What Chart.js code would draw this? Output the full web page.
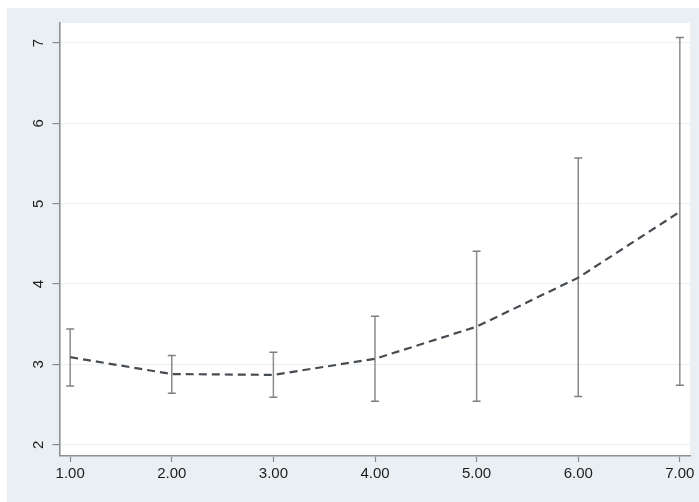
<!DOCTYPE html>
<html>
<head>
<meta charset="utf-8">
<script src="https://cdn.jsdelivr.net/npm/chart.js@4/dist/chart.umd.min.js"></script>
<style>
  html, body { margin: 0; padding: 0; background: #ffffff; }
  #c { display: block; }
</style>
</head>
<body>
<canvas id="c" width="699" height="502"></canvas>
<script>
// Group levels on the x axis
const xLevels = [1, 2, 3, 4, 5, 6, 7];
// Predicted mean at each level
const meanValues = [3.09, 2.88, 2.87, 3.07, 3.47, 4.08, 4.90];
// Confidence interval bounds
const lowerValues = [2.73, 2.64, 2.59, 2.54, 2.54, 2.60, 2.74];
const upperValues = [3.44, 3.11, 3.15, 3.60, 4.41, 5.57, 7.07];
// Axis tick labels
const xTickValues = [1, 2, 3, 4, 5, 6, 7];
const xTickLabels = ['1.00', '2.00', '3.00', '4.00', '5.00', '6.00', '7.00'];
const yTickValues = [2, 3, 4, 5, 6, 7];

// Mean curve as x/y pairs
const meanPoints = xLevels.map((x, i) => ({ x: x, y: meanValues[i] }));

// Interval whiskers: low/high pair per level, separated by a gap
const intervalPoints = [];
xLevels.forEach((x, i) => {
  intervalPoints.push({ x: x, y: lowerValues[i] });
  intervalPoints.push({ x: x, y: upperValues[i] });
  intervalPoints.push({ x: x, y: null });
});

// Graph region (light panel) and white plot region
const panelPlugin = {
  id: 'panel',
  beforeDraw(chart) {
    const ctx = chart.ctx;
    const a = chart.chartArea;
    ctx.save();
    ctx.fillStyle = '#ffffff';
    ctx.fillRect(0, 0, chart.width, chart.height);
    ctx.fillStyle = '#e9eff3';
    ctx.fillRect(7, 8, chart.width - 7, chart.height - 8);
    ctx.fillStyle = '#ffffff';
    ctx.fillRect(a.left, a.top, a.right - a.left, a.bottom - a.top);
    ctx.restore();
  }
};

const labelFont = { family: '"Liberation Sans", Arial, sans-serif', size: 15 };

new Chart(document.getElementById('c'), {
  type: 'scatter',
  data: {
    datasets: [
      {
        label: 'mean',
        data: meanPoints,
        showLine: true,
        borderColor: '#474c52',
        borderWidth: 2.2,
        borderDash: [8, 5],
        pointRadius: 0,
        tension: 0,
        order: 0
      },
      {
        label: 'interval',
        data: intervalPoints,
        showLine: true,
        spanGaps: false,
        borderColor: '#8c8c8c',
        borderWidth: 1.5,
        pointStyle: 'line',
        pointRadius: 4,
        pointBorderWidth: 1.5,
        pointBorderColor: '#7f7f7f',
        order: 1
      }
    ]
  },
  options: {
    responsive: false,
    animation: false,
    layout: { padding: { left: 0, top: 23, right: 9, bottom: 0 } },
    plugins: {
      legend: { display: false },
      tooltip: { enabled: false }
    },
    scales: {
      x: {
        type: 'linear',
        min: 0.895,
        max: 7.1,
        afterBuildTicks(scale) {
          scale.ticks = xTickValues.map(v => ({ value: v }));
        },
        afterFit(scale) { scale.height = 46; },
        ticks: {
          color: '#1c1c1c',
          font: labelFont,
          padding: 3,
          maxRotation: 0,
          autoSkip: false,
          callback(value) {
            const i = xTickValues.indexOf(value);
            return i >= 0 ? xTickLabels[i] : '';
          }
        },
        grid: {
          drawOnChartArea: false,
          drawTicks: true,
          tickLength: 6,
          tickColor: '#8a8a8a',
          tickWidth: 1.2
        },
        border: { color: '#8f8f8f', width: 1.6 }
      },
      y: {
        type: 'linear',
        min: 1.86,
        max: 7.25,
        afterBuildTicks(scale) {
          scale.ticks = yTickValues.map(v => ({ value: v }));
        },
        afterFit(scale) { scale.width = 59.5; },
        ticks: {
          color: '#1c1c1c',
          font: labelFont,
          minRotation: 90,
          maxRotation: 90,
          crossAlign: 'center',
          padding: 9,
          autoSkip: false,
          callback(value) { return String(value); }
        },
        grid: {
          color: '#edf1f4',
          lineWidth: 1.2,
          drawTicks: true,
          tickLength: 7,
          tickColor: '#8a8a8a',
          tickWidth: 1.2
        },
        border: { color: '#8f8f8f', width: 1.6 }
      }
    }
  },
  plugins: [panelPlugin]
});
</script>
</body>
</html>
